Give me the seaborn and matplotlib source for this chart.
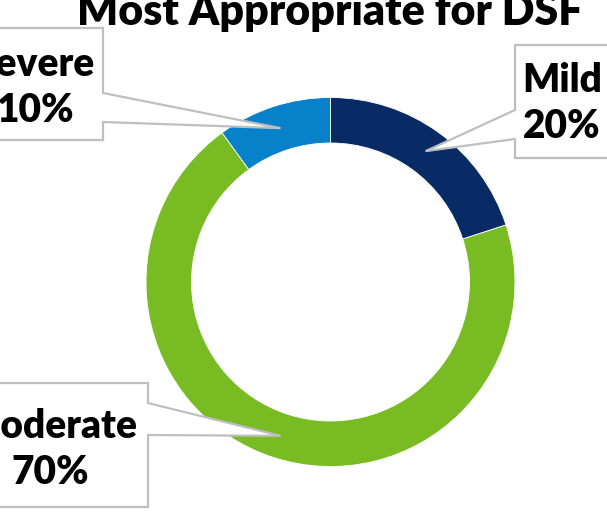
import numpy as np
import matplotlib
matplotlib.use("Agg")
import matplotlib.pyplot as plt
from matplotlib.patches import Polygon
import seaborn as sns

# ---- data ----
categories = ["Mild", "Moderate", "Severe"]
values = [20, 70, 10]
colors = ["#082B66", "#78BB23", "#0681CA"]
title = "Most Appropriate for DSF"

sns.set_theme(style="white")
plt.rcParams['font.family'] = ['Lato', 'DejaVu Sans']

W, H = 607, 525
fig = plt.figure(figsize=(W / 100, H / 100), dpi=100)
ax = fig.add_axes([0, 0, 1, 1])

cx, cy = 330.5, H - 282
R_out, R_in = 184.5, 139.0
pal = sns.color_palette(colors)
ax.pie(values, colors=pal, startangle=90, counterclock=False,
       radius=R_out, center=(cx, cy),
       wedgeprops=dict(width=R_out - R_in, edgecolor="white", linewidth=0.6))
ax.set_xlim(0, W)
ax.set_ylim(0, H)
ax.set_aspect("equal")
ax.axis("off")

# tips of callouts: middle of each ring segment
total = sum(values)
cum = np.cumsum([0] + values)
R_mid = (R_out + R_in) / 2
tips = []
for i in range(len(values)):
    mid = (cum[i] + values[i] / 2) / total * 360.0
    a = np.deg2rad(mid)
    tips.append((cx + R_mid * np.sin(a), cy + R_mid * np.cos(a)))

def py(y):
    return H - y

# layout of boxes (pixel coords, y from top)
boxes = {
    "Mild": dict(x0=515, y0=45, x1=640, y1=158, side="left", p0=110, p1=139, tx=562, ty=104),
    "Moderate": dict(x0=-60, y0=383, x1=148, y1=507, side="right", p0=403, p1=435, tx=50, ty=449),
    "Severe": dict(x0=-60, y0=28, x1=103, y1=140, side="right", p0=93, p1=122, tx=35, ty=88),
}

edge = "#BFBFBF"
for i, cat in enumerate(categories):
    b = boxes[cat]
    tip = tips[i]
    x0, x1 = b["x0"], b["x1"]
    y0, y1 = py(b["y0"]), py(b["y1"])
    p0, p1 = py(b["p0"]), py(b["p1"])
    if b["side"] == "right":
        pts = [(x0, y0), (x1, y0), (x1, p0), tip, (x1, p1), (x1, y1), (x0, y1)]
    else:
        pts = [(x0, y0), (x1, y0), (x1, y1), (x0, y1), (x0, p1), tip, (x0, p0)]
    poly = Polygon(pts, closed=True, facecolor="white", edgecolor=edge,
                   linewidth=1.6, zorder=5, joinstyle="miter")
    ax.add_patch(poly)
    ax.text(b["tx"], py(b["ty"]), f"{cat}\n{values[i]}%", ha="center", va="center",
            multialignment="center", fontsize=28, fontweight="heavy", color="black",
            linespacing=1.3, zorder=6)

ax.text(330, py(25), title, ha="center", va="baseline", fontsize=31,
        fontweight="heavy", color="black")

fig.savefig("out.png", dpi=100)
